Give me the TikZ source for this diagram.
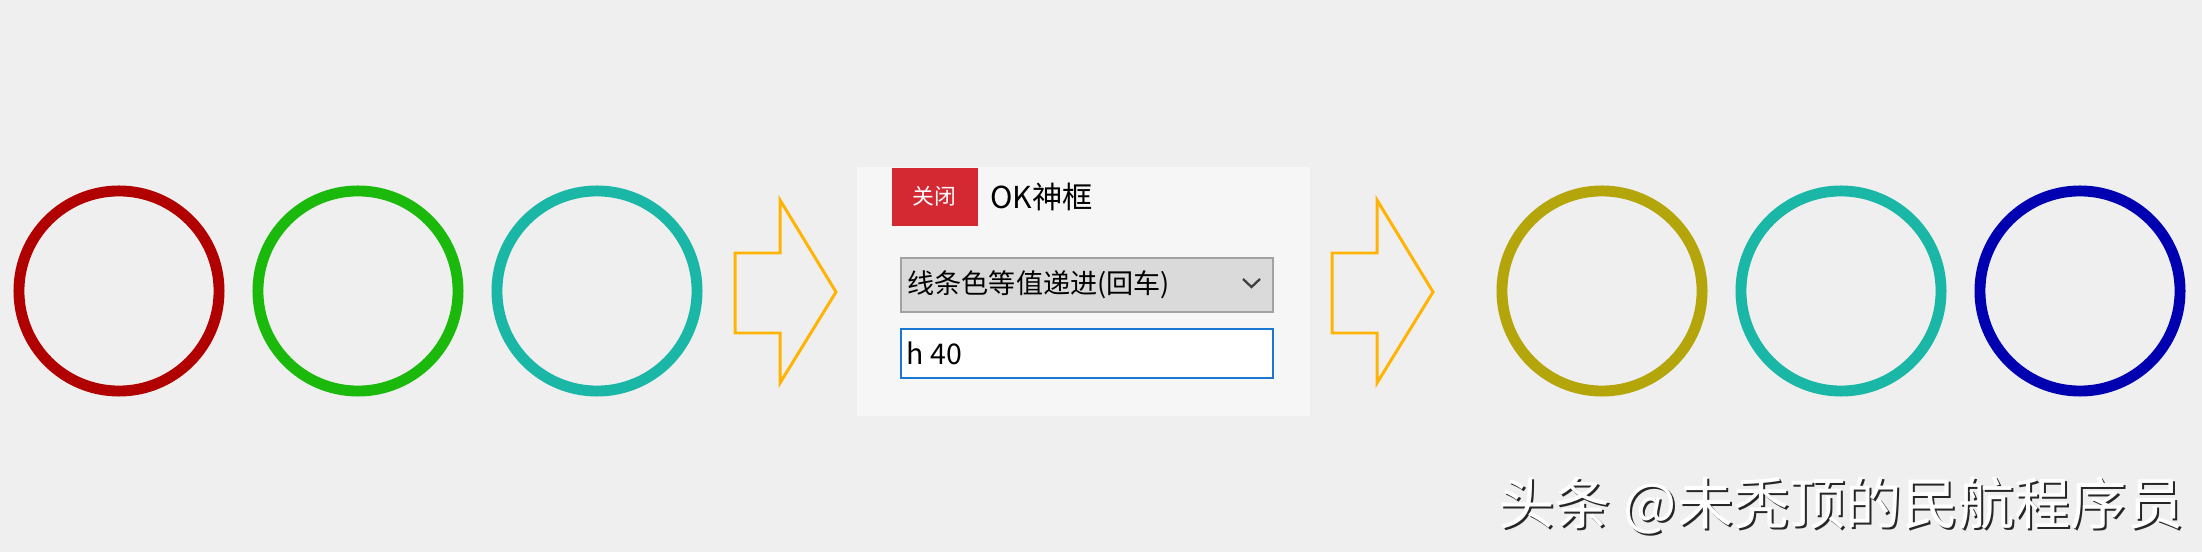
\documentclass[tikz,border=0pt]{standalone}
\usepackage{fontspec}
\newfontfamily\cjkfont{Noto Sans CJK SC}
\usetikzlibrary{positioning}
\definecolor{bgc}{HTML}{EFEFEF}
\definecolor{panelc}{HTML}{F6F6F6}
\definecolor{btnred}{HTML}{D42933}
\definecolor{combofill}{HTML}{DADADA}
\definecolor{combobd}{HTML}{A2A2A2}
\definecolor{inputbd}{HTML}{1A77D2}
\definecolor{arrowc}{HTML}{FFB405}
\definecolor{ringred}{HTML}{B00000}
\definecolor{ringgreen}{HTML}{1CB90D}
\definecolor{ringteal}{HTML}{1AB6A6}
\definecolor{ringolive}{HTML}{B3A50A}
\definecolor{ringblue}{HTML}{0000B0}
\begin{document}
\begin{tikzpicture}[x=0.01cm,y=-0.01cm,
    ring/.style={draw=#1,circle,line width=3.1pt,minimum size=2cm,inner sep=0pt},
    bigarrow/.style={draw=arrowc,line width=0.85pt,line join=miter},
    uitext/.style={inner sep=0pt,anchor=west,font=\cjkfont\fontsize{#1}{#1}\selectfont}]
    \fill[bgc] (0,0) rectangle (2202,552);
    \useasboundingbox (0,0) rectangle (2202,552);
    % colour rings before and after
    \foreach \c/\x in {ringred/119,ringgreen/358,ringteal/597}
        \node[ring=\c] (in\x) at (\x,291) {};
    \foreach \c/\x in {ringolive/1602,ringteal/1841,ringblue/2080}
        \node[ring=\c] (out\x) at (\x,291) {};
    % hollow arrows
    \foreach \dx in {0,597}
        \draw[bigarrow] (735+\dx,253) -- (780+\dx,253) -- (780+\dx,200) -- (836+\dx,292)
            -- (780+\dx,383) -- (780+\dx,333) -- (735+\dx,333) -- cycle;
    % dialog
    \fill[panelc] (857,167) rectangle (1310,416);
    \node[fill=btnred,minimum width=0.86cm,minimum height=0.58cm,inner sep=0pt,anchor=north west,
        text=white,font=\cjkfont\fontsize{6.2}{6.2}\selectfont] (close) at (891,167) {关闭};
    \node[uitext=8.6,right=0.11cm of close] (title) {OK神框};
    \node[draw=combobd,fill=combofill,line width=0.6pt,minimum width=3.72cm,minimum height=0.54cm,
        inner sep=0pt,anchor=north west] (combo) at (900,257) {};
    \node[uitext=7.7] (mode) at ([xshift=0.07cm]combo.west) {线条色等值递进(回车)};
    \draw[black!75,line width=0.65pt] (1243,279) -- (1251.5,287) -- (1260,279);
    \node[draw=inputbd,fill=white,line width=0.6pt,minimum width=3.72cm,minimum height=0.49cm,
        inner sep=0pt,anchor=north west] (input) at (900,328) {};
    \node[uitext=8.1] (value) at ([xshift=0.06cm]input.west) {h 40};
    % watermark
    \node[uitext=16,text=black!85] (markshadow) at (1500,507) {头条 @未秃顶的民航程序员};
    \node[uitext=16,text=white] (mark) at (1498,505) {头条 @未秃顶的民航程序员};
\end{tikzpicture}
\end{document}
